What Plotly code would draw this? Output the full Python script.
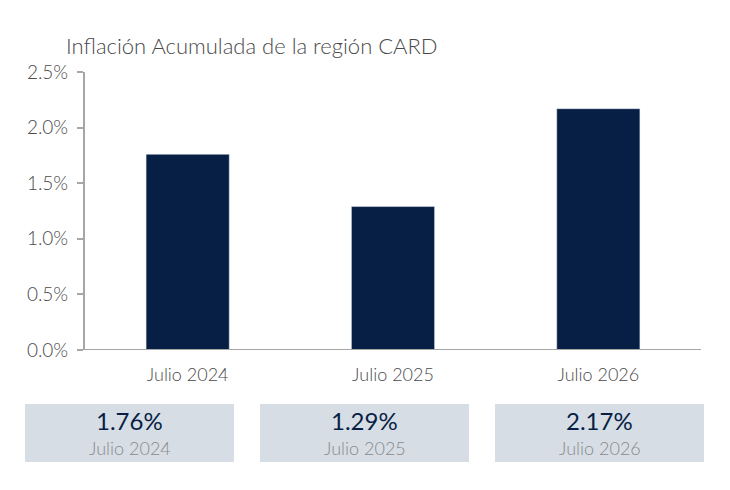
import plotly.graph_objects as go

periods = ["Julio 2024", "Julio 2025", "Julio 2026"]
inflation = [1.76, 1.29, 2.17]
y_ticks = [0.0, 0.5, 1.0, 1.5, 2.0, 2.5]
y_tick_labels = ["0.0%", "0.5%", "1.0%", "1.5%", "2.0%", "2.5%"]

navy = "#071f45"
axis_gray = "#a6a6a6"
text_gray = "#4a4a4a"
font_family = "Century Gothic, Lato, sans-serif"

# page body adds an 8px offset, so work in screen pixels and shift
OFF = 8
W, H = 730, 490
left, right, top, bottom = 85 - OFF, 29 + OFF, 72 - OFF, 140 + OFF
plot_w = W - left - right
plot_h = H - top - bottom


def px_x(px):
    return (px - OFF - left) / plot_w


def px_y(py):
    return (H - bottom - (py - OFF)) / plot_h


fig = go.Figure()
fig.add_trace(go.Bar(x=periods, y=inflation, marker_color=navy, width=0.405,
                     hoverinfo="skip"))

# summary boxes under the chart
box_left = [25, 260, 495]
box_w = 209
for bx, period, val in zip(box_left, periods, inflation):
    fig.add_shape(type="rect", xref="paper", yref="paper",
                  x0=px_x(bx), x1=px_x(bx + box_w),
                  y0=px_y(462), y1=px_y(404),
                  fillcolor="#d6dde5", line_width=0, layer="below")
    cx = px_x(bx + box_w / 2)
    fig.add_annotation(x=cx, y=px_y(420), xref="paper", yref="paper",
                       xanchor="center", yanchor="middle",
                       text=f"{val:.2f}%", showarrow=False,
                       font=dict(size=24, color=navy, family=font_family,
                                 weight=400))
    fig.add_annotation(x=cx, y=px_y(448), xref="paper", yref="paper",
                       xanchor="center", yanchor="middle",
                       text=period, showarrow=False,
                       font=dict(size=18, color="#8a8a8a", family=font_family,
                                 weight=300))

# x axis baseline (runs a bit left of the y axis)
fig.add_shape(type="line", xref="paper", yref="y",
              x0=px_x(79), x1=px_x(701), y0=0, y1=0,
              line=dict(color=axis_gray, width=2))

fig.update_layout(
    width=W, height=H,
    margin=dict(l=left, r=right, t=top, b=bottom),
    plot_bgcolor="white", paper_bgcolor="white",
    showlegend=False,
    font=dict(family=font_family, color=text_gray, weight=300),
    title=dict(text="Inflación Acumulada de la región CARD",
               x=(66 - OFF) / W, xanchor="left",
               y=1 - (46 - OFF) / H, yanchor="middle",
               font=dict(size=22, color=text_gray, family=font_family,
                         weight=300)),
    xaxis=dict(showline=False, showgrid=False, ticks="",
               ticklabelstandoff=12,
               tickfont=dict(size=18, color=text_gray, weight=300),
               fixedrange=True),
    yaxis=dict(range=[0, 2.5], tickvals=y_ticks, ticktext=y_tick_labels,
               showgrid=False, zeroline=False, showline=True,
               linecolor=axis_gray, linewidth=2,
               ticks="outside", ticklen=6, tickcolor=axis_gray, tickwidth=2,
               ticklabelstandoff=5,
               tickfont=dict(size=19, color=text_gray, weight=300),
               fixedrange=True),
)

fig.write_html("out.html")
